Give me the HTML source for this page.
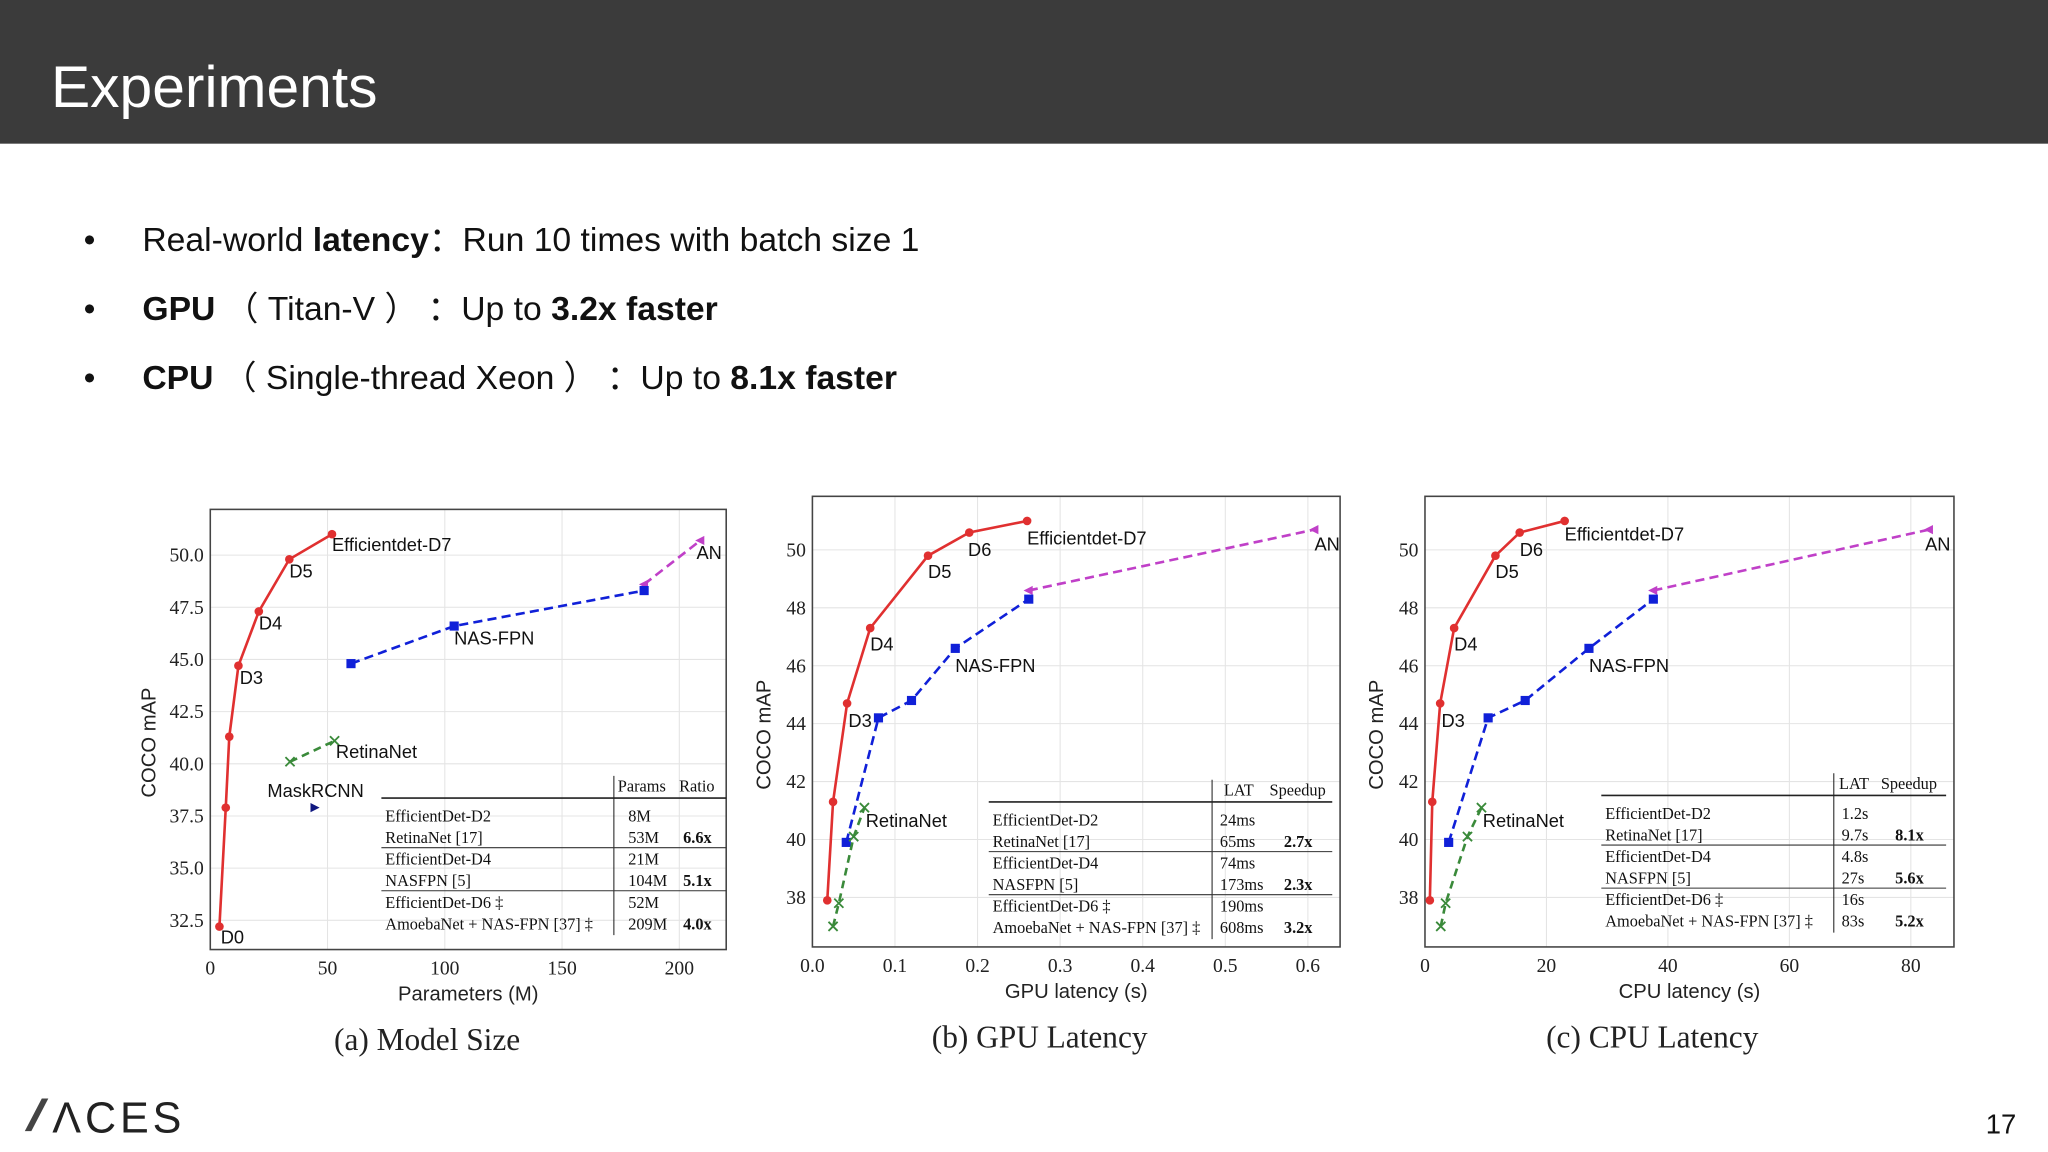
<!DOCTYPE html>
<html><head><meta charset="utf-8">
<style>
html,body{margin:0;padding:0;background:#fff;}
svg{display:block;}
.sans{font-family:"Liberation Sans",sans-serif;}
.serif{font-family:"Liberation Serif",serif;}
</style></head>
<body>
<svg id="slide" width="2048" height="1152" viewBox="0 0 1568 882" xmlns="http://www.w3.org/2000/svg">
  <rect x="0" y="0" width="1568" height="110" fill="#3b3b3b"/>
  <text x="39" y="82" class="sans" font-size="45" fill="#fff">Experiments</text>
  <g class="sans" font-size="25.8" fill="#111">
    <text x="64" y="192">•</text>
    <text x="109" y="192">Real-world <tspan font-weight="bold">latency</tspan>：Run 10 times with batch size 1</text>
    <text x="64" y="245">•</text>
    <text x="109" y="245"><tspan font-weight="bold">GPU</tspan> （ Titan-V ） ：Up to <tspan font-weight="bold">3.2x faster</tspan></text>
    <text x="64" y="298">•</text>
    <text x="109" y="298"><tspan font-weight="bold">CPU</tspan> （ Single-thread Xeon ） ：Up to <tspan font-weight="bold">8.1x faster</tspan></text>
  </g>
  <g id="charts"></g>
  <g>
    <polygon points="19,866 24,866 37,841 32,841" fill="#444"/>
    <text x="40" y="867" class="sans" font-size="33" fill="#222" letter-spacing="3">ΛCES</text>
  </g>
  <text x="1532" y="868" class="sans" font-size="21" fill="#111" text-anchor="middle">17</text>
</svg>
<script>
// ---------- Chart (a) Model Size ----------
const aEffX = [3.9, 6.6, 8.1, 12, 20.7, 33.7, 51.9];
const aEffY = [32.2, 37.9, 41.3, 44.7, 47.3, 49.8, 51.0];
const aNasX = [60, 104, 185];
const aNasY = [44.8, 46.6, 48.3];
const aAnX = [185, 209];
const aAnY = [48.6, 50.7];
const aRetX = [34, 53];
const aRetY = [40.1, 41.1];
const aMaskX = [44.4];
const aMaskY = [37.9];
const aXTicks = [0, 50, 100, 150, 200];
const aXTickLabels = ["0", "50", "100", "150", "200"];
const aYTicks = [32.5, 35, 37.5, 40, 42.5, 45, 47.5, 50];
const aYTickLabels = ["32.5", "35.0", "37.5", "40.0", "42.5", "45.0", "47.5", "50.0"];
const aTableRows = [["EfficientDet-D2","8M",""],["RetinaNet [17]","53M","6.6x"],["EfficientDet-D4","21M",""],["NASFPN [5]","104M","5.1x"],["EfficientDet-D6 ‡","52M",""],["AmoebaNet + NAS-FPN [37] ‡","209M","4.0x"]];
// ---------- Chart (b) GPU Latency ----------
const bEffX = [0.018, 0.025, 0.042, 0.07, 0.14, 0.19, 0.26];
const bEffY = [37.9, 41.3, 44.7, 47.3, 49.8, 50.6, 51.0];
const bNasX = [0.041, 0.08, 0.12, 0.173, 0.262];
const bNasY = [39.9, 44.2, 44.8, 46.6, 48.3];
const bAnX = [0.262, 0.608];
const bAnY = [48.6, 50.7];
const bRetX = [0.025, 0.032, 0.05, 0.063];
const bRetY = [37.0, 37.8, 40.1, 41.1];
const bXTicks = [0, 0.1, 0.2, 0.3, 0.4, 0.5, 0.6];
const bXTickLabels = ["0.0", "0.1", "0.2", "0.3", "0.4", "0.5", "0.6"];
const bYTicks = [38, 40, 42, 44, 46, 48, 50];
const bYTickLabels = ["38", "40", "42", "44", "46", "48", "50"];
const bTableRows = [["EfficientDet-D2","24ms",""],["RetinaNet [17]","65ms","2.7x"],["EfficientDet-D4","74ms",""],["NASFPN [5]","173ms","2.3x"],["EfficientDet-D6 ‡","190ms",""],["AmoebaNet + NAS-FPN [37] ‡","608ms","3.2x"]];
// ---------- Chart (c) CPU Latency ----------
const cEffX = [0.8, 1.2, 2.5, 4.8, 11.6, 15.6, 23];
const cEffY = [37.9, 41.3, 44.7, 47.3, 49.8, 50.6, 51.0];
const cNasX = [3.9, 10.4, 16.5, 27, 37.6];
const cNasY = [39.9, 44.2, 44.8, 46.6, 48.3];
const cAnX = [37.6, 83];
const cAnY = [48.6, 50.7];
const cRetX = [2.6, 3.4, 7, 9.3];
const cRetY = [37.0, 37.8, 40.1, 41.1];
const cXTicks = [0, 20, 40, 60, 80];
const cXTickLabels = ["0", "20", "40", "60", "80"];
const cYTicks = [38, 40, 42, 44, 46, 48, 50];
const cYTickLabels = ["38", "40", "42", "44", "46", "48", "50"];
const cTableRows = [["EfficientDet-D2","1.2s",""],["RetinaNet [17]","9.7s","8.1x"],["EfficientDet-D4","4.8s",""],["NASFPN [5]","27s","5.6x"],["EfficientDet-D6 ‡","16s",""],["AmoebaNet + NAS-FPN [37] ‡","83s","5.2x"]];

const NS = "http://www.w3.org/2000/svg";
const root = document.getElementById('charts');
function mk(tag, attrs, parent, txt) {
  const e = document.createElementNS(NS, tag);
  for (const k in attrs) e.setAttribute(k, attrs[k]);
  if (txt !== undefined) e.textContent = txt;
  parent.appendChild(e);
  return e;
}

function drawChart(cfg) {
  const g = mk('g', {}, root);
  
  
  const L = cfg.L, R = cfg.R, T = cfg.T, B = cfg.B;
  const sx = v => L + (v - cfg.xmin) / (cfg.xmax - cfg.xmin) * (R - L);
  const sy = v => B - (v - cfg.ymin) / (cfg.ymax - cfg.ymin) * (B - T);
  cfg.xTicks.forEach((t, i) => {
    const ln = mk('line', {x1: sx(t), x2: sx(t), y1: T, y2: B, stroke: '#e4e4e4', 'stroke-width': 0.8}, g);
    
    
    const tl = mk('text', {x: sx(t), y: B + 19, 'text-anchor': 'middle', 'font-size': 15, fill: '#222', class: 'serif'}, g, cfg.xTickLabels[i]);
    
    
  });
  cfg.yTicks.forEach((t, i) => {
    const ln = mk('line', {x1: L, x2: R, y1: sy(t), y2: sy(t), stroke: '#e4e4e4', 'stroke-width': 0.8}, g);
    
    
    const tl = mk('text', {x: L - 5, y: sy(t) + 5, 'text-anchor': 'end', 'font-size': 15, fill: '#222', class: 'serif'}, g, cfg.yTickLabels[i]);
    
    
  });
  const fr = mk('rect', {x: L, y: T, width: R - L, height: B - T, fill: 'none', stroke: '#444', 'stroke-width': 1.2}, g);
  
  
  const xt = mk('text', {x: (L + R) / 2, y: B + 39, 'text-anchor': 'middle', 'font-size': 15.5, fill: '#222', class: 'sans'}, g, cfg.xTitle);
  
  
  const yx = cfg.yTitleX, yy = (T + B) / 2 + 10;
  const yt = mk('text', {x: yx, y: yy, 'text-anchor': 'middle', 'font-size': 15.5, fill: '#222', class: 'sans', transform: `rotate(-90 ${yx} ${yy})`}, g, 'COCO mAP');
  
  
  const cap = mk('text', {x: cfg.capX, y: B + 77, 'text-anchor': 'middle', 'font-size': 24, fill: '#222', class: 'serif'}, g, cfg.caption);
  
  

  function series(xs, ys, color, dash, marker, sname) {
    const pts = xs.map((x, i) => sx(x) + ',' + sy(ys[i])).join(' ');
    const pl = mk('polyline', {points: pts, fill: 'none', stroke: color, 'stroke-width': 2, 'stroke-dasharray': dash || 'none'}, g);
    
    
    xs.forEach((x, i) => {
      const px = sx(x), py = sy(ys[i]);
      let m;
      if (marker === 'circle') m = mk('circle', {cx: px, cy: py, r: 3.3, fill: color}, g);
      else if (marker === 'square') m = mk('rect', {x: px - 3.5, y: py - 3.5, width: 7, height: 7, fill: color}, g);
      else if (marker === 'tri') m = mk('polygon', {points: `${px-4},${py} ${px+3},${py-3.5} ${px+3},${py+3.5}`, fill: color}, g);
      else if (marker === 'triR') m = mk('polygon', {points: `${px+4},${py} ${px-3},${py-3.5} ${px-3},${py+3.5}`, fill: color}, g);
      else m = mk('path', {d: `M${px-3.5},${py-3.5}L${px+3.5},${py+3.5}M${px-3.5},${py+3.5}L${px+3.5},${py-3.5}`, stroke: color, 'stroke-width': 1.4}, g);
      
      
    });
  }
  series(cfg.anX, cfg.anY, '#c040c8', '7,4', 'tri', 'amoebanet');
  series(cfg.nasX, cfg.nasY, '#1020d8', '7,4', 'square', 'nas-fpn');
  series(cfg.retX, cfg.retY, '#3a8a3a', '6,4', 'x', 'retinanet');
  series(cfg.effX, cfg.effY, '#e03030', null, 'circle', 'efficientdet');
  if (cfg.maskX) series(cfg.maskX, cfg.maskY, '#101880', null, 'triR', 'maskrcnn');

  function label(txt, x, y, dx, dy, nm) {
    const t = mk('text', {x: sx(x) + dx, y: sy(y) + dy, 'font-size': 14, fill: '#111', class: 'sans'}, g, txt);
    
    
  }
  cfg.labels.forEach(l => label(l[0], l[1], l[2], l[3], l[4], l[5]));

  const tb = cfg.tbl;
  const tg = mk('g', {class: 'serif', 'font-size': 12.5, fill: '#111'}, g);
  
  
  mk('line', {x1: tb.x0, x2: tb.x1, y1: tb.top, y2: tb.top, stroke: '#222', 'stroke-width': 1.3}, tg);
  mk('line', {x1: tb.vx, x2: tb.vx, y1: tb.top - 17, y2: tb.top + 105, stroke: '#222', 'stroke-width': 0.8}, tg);
  mk('text', {x: tb.c1, y: tb.top - 5}, tg, tb.h1);
  mk('text', {x: tb.c2, y: tb.top - 5}, tg, tb.h2);
  [38, 71].forEach(k => mk('line', {x1: tb.x0, x2: tb.x1, y1: tb.top + k, y2: tb.top + k, stroke: '#333', 'stroke-width': 0.8}, tg));
  cfg.rows.forEach((r, i) => {
    const y = tb.top + 18 + i * 16.5;
    mk('text', {x: tb.x0 + 3, y: y}, tg, r[0]);
    mk('text', {x: tb.c1 + tb.o1, y: y}, tg, r[1]);
    if (r[2]) mk('text', {x: tb.c2 + tb.o2, y: y, 'font-weight': 'bold'}, tg, r[2]);
  });
}

drawChart({name: 'chart-model-size', L: 161, R: 556, T: 390, B: 727, xmin: 0, xmax: 220, ymin: 31.1, ymax: 52.19,
  xTicks: aXTicks, xTickLabels: aXTickLabels, yTicks: aYTicks, yTickLabels: aYTickLabels,
  xTitle: 'Parameters (M)', caption: '(a) Model Size', yTitleX: 119, capX: 327,
  effX: aEffX, effY: aEffY, nasX: aNasX, nasY: aNasY, anX: aAnX, anY: aAnY, retX: aRetX, retY: aRetY, maskX: aMaskX, maskY: aMaskY,
  labels: [['Efficientdet-D7', aEffX[6], aEffY[6], 0, 13, 'label-d7'], ['D5', aEffX[5], aEffY[5], 0, 14, 'label-d5'], ['D4', aEffX[4], aEffY[4], 0, 14, 'label-d4'], ['D3', aEffX[3], aEffY[3], 1, 14, 'label-d3'], ['D0', aEffX[0], aEffY[0], 1, 13, 'label-d0'],
    ['NAS-FPN', aNasX[1], aNasY[1], 0, 14, 'label-nasfpn'], ['AN', aAnX[1], aAnY[1], -3, 14, 'label-an'], ['RetinaNet', aRetX[1], aRetY[1], 1, 13, 'label-retinanet'], ['MaskRCNN', aMaskX[0], aMaskY[0], -36, -8, 'label-maskrcnn']],
  tbl: {x0: 292, x1: 556, top: 611, vx: 470, c1: 473, c2: 520, h1: 'Params', h2: 'Ratio', o1: 8, o2: 3}, rows: aTableRows});

drawChart({name: 'chart-gpu-latency', L: 622, R: 1026, T: 380, B: 725, xmin: 0, xmax: 0.639, ymin: 36.29, ymax: 51.85,
  xTicks: bXTicks, xTickLabels: bXTickLabels, yTicks: bYTicks, yTickLabels: bYTickLabels,
  xTitle: 'GPU latency (s)', caption: '(b) GPU Latency', yTitleX: 590, capX: 796,
  effX: bEffX, effY: bEffY, nasX: bNasX, nasY: bNasY, anX: bAnX, anY: bAnY, retX: bRetX, retY: bRetY,
  labels: [['Efficientdet-D7', bEffX[6], bEffY[6], 0, 18, 'label-d7'], ['D6', bEffX[5], bEffY[5], -1, 18, 'label-d6'], ['D5', bEffX[4], bEffY[4], 0, 17, 'label-d5'], ['D4', bEffX[3], bEffY[3], 0, 17, 'label-d4'], ['D3', bEffX[2], bEffY[2], 1, 18, 'label-d3'],
    ['NAS-FPN', bNasX[3], bNasY[3], 0, 18, 'label-nasfpn'], ['AN', bAnX[1], bAnY[1], 0, 16, 'label-an'], ['RetinaNet', bRetX[3], bRetY[3], 1, 15, 'label-retinanet']],
  tbl: {x0: 757, x1: 1020, top: 614, vx: 928, c1: 937, c2: 972, h1: 'LAT', h2: 'Speedup', o1: -3, o2: 11}, rows: bTableRows});

drawChart({name: 'chart-cpu-latency', L: 1091, R: 1496, T: 380, B: 725, xmin: 0, xmax: 87.1, ymin: 36.29, ymax: 51.85,
  xTicks: cXTicks, xTickLabels: cXTickLabels, yTicks: cYTicks, yTickLabels: cYTickLabels,
  xTitle: 'CPU latency (s)', caption: '(c) CPU Latency', yTitleX: 1059, capX: 1265,
  effX: cEffX, effY: cEffY, nasX: cNasX, nasY: cNasY, anX: cAnX, anY: cAnY, retX: cRetX, retY: cRetY,
  labels: [['Efficientdet-D7', cEffX[6], cEffY[6], 0, 15, 'label-d7'], ['D6', cEffX[5], cEffY[5], 0, 18, 'label-d6'], ['D5', cEffX[4], cEffY[4], 0, 17, 'label-d5'], ['D4', cEffX[3], cEffY[3], 0, 17, 'label-d4'], ['D3', cEffX[2], cEffY[2], 1, 18, 'label-d3'],
    ['NAS-FPN', cNasX[3], cNasY[3], 0, 18, 'label-nasfpn'], ['AN', cAnX[1], cAnY[1], -3, 16, 'label-an'], ['RetinaNet', cRetX[3], cRetY[3], 1, 15, 'label-retinanet']],
  tbl: {x0: 1226, x1: 1490, top: 609, vx: 1404, c1: 1408, c2: 1440, h1: 'LAT', h2: 'Speedup', o1: 2, o2: 11}, rows: cTableRows});
</script>
</body></html>
